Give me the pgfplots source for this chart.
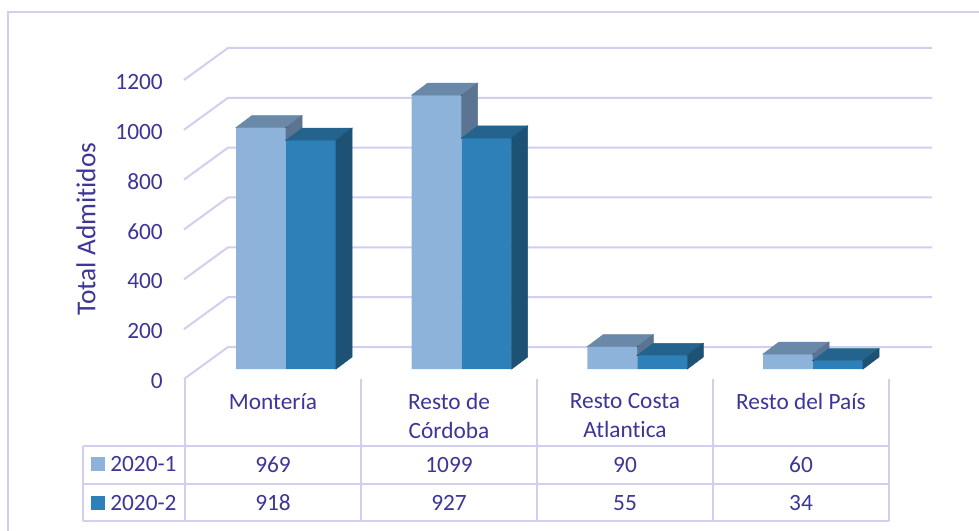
\documentclass[border=0pt]{standalone}
\usepackage{pgfplots}
\usepackage{pgfplotstable}
\pgfplotsset{compat=1.18}
\usepackage{fontspec}
\setmainfont{Carlito}[Ligatures=CommonOff]
\definecolor{txt}{RGB}{60,54,152}
\definecolor{gridc}{RGB}{210,206,240}
\definecolor{lf}{RGB}{142,179,219}
\definecolor{lt}{RGB}{106,136,168}
\definecolor{ls}{RGB}{90,116,145}
\definecolor{df}{RGB}{46,128,184}
\definecolor{dt}{RGB}{35,99,142}
\definecolor{ds}{RGB}{29,82,117}
\pgfplotstableread{
x a b
0 969 918
1 1099 927
2 90 55
3 60 34
}\datatable
\newcommand\yu{0.1869}
\newcommand\fnt{\fontsize{17.5}{21.75}\selectfont}
\begin{document}
\begin{tikzpicture}
\begin{scope}[x=0.75pt,y=-0.75pt]
\path[use as bounding box] (0,0) rectangle (979,531);
\fill[white] (0,0) rectangle (979,531);
% frame
\draw[gridc, line width=1.5pt] (8,531) -- (8,12) -- (979,12);
% gridlines and tick labels
\foreach \v in {0,200,400,600,800,1000,1200} {
  \pgfmathsetmacro\yb{347-0.2492*\v}
  \pgfmathsetmacro\yf{379-0.2492*\v}
  \draw[gridc, line width=1.5pt] (184,\yf) -- (228,\yb) -- (932,\yb);
  \node[anchor=east, text=txt, font=\fnt, inner sep=0pt] at (163,\yf+2) {\v};
}
% axis title
\node[rotate=90, text=txt, font=\fontsize{20.5}{24}\selectfont] at (86,229) {Total Admitidos};
% table lines
\draw[gridc, line width=1.5pt] (83,446) -- (889,446);
\draw[gridc, line width=1.5pt] (83,484) -- (889,484);
\draw[gridc, line width=1.5pt] (83,521) -- (889,521);
\draw[gridc, line width=1.5pt] (83,446) -- (83,521);
\foreach \xx in {185,361,537,713,889} {
  \draw[gridc, line width=1.5pt] (\xx,379) -- (\xx,521);
}
% category labels
\node[text=txt, font=\fnt, align=center, anchor=north, inner sep=0pt] at (273,393) {Montería};
\node[text=txt, font=\fnt, align=center, anchor=north, inner sep=0pt] at (449,393) {Resto de\\Córdoba};
\node[text=txt, font=\fnt, align=center, anchor=north, inner sep=0pt] at (625,393) {Resto Costa\\Atlant\kern0pt ica};
\node[text=txt, font=\fnt, align=center, anchor=north, inner sep=0pt] at (801,393) {Resto del País};
% legend keys
\fill[lf] (91,457) rectangle (105,471);
\fill[df] (91,496) rectangle (105,510);
\node[anchor=west, text=txt, font=\fnt, inner sep=0pt] at (110,464) {2020-1};
\node[anchor=west, text=txt, font=\fnt, inner sep=0pt] at (110,503) {2020-2};
% table values
\foreach \xx/\va/\vb in {273/969/918, 449/1099/927, 625/90/55, 801/60/34} {
  \node[text=txt, font=\fnt, inner sep=0pt] at (\xx,465) {\va};
  \node[text=txt, font=\fnt, inner sep=0pt] at (\xx,503) {\vb};
}
\end{scope}
\begin{axis}[at={(214.5pt,-276.75pt)}, anchor=south west,
  x=131.75pt, y=0.1869pt, xmin=0, xmax=3, ymin=0, ymax=1200,
  hide axis, clip=false]
% light front
\addplot[ybar, bar width=37.5pt, bar shift=-18.75pt, fill=lf, draw=none] table[x=x,y=a]{\datatable};
% dark front
\addplot[ybar, bar width=37.5pt, bar shift=18.75pt, fill=df, draw=none] table[x=x,y=b]{\datatable};
% light top and visible part of side
\addplot[scatter, only marks, mark=*, mark size=0.01pt,
  visualization depends on={\thisrow{a} \as \va},
  visualization depends on={\thisrow{b} \as \vb},
  scatter/@pre marker code/.code={%
    \pgfmathsetmacro\h{(\va-\vb)*\yu}%
    \fill[lt] (-37.5pt,0pt) -- (-25.5pt,9pt) -- (12pt,9pt) -- (0pt,0pt) -- cycle;
    \fill[ls] (0pt,0pt) -- (12pt,9pt) -- (12pt,9pt-\h pt) -- (0pt,-\h pt) -- cycle;
    \begin{scope}},
  scatter/@post marker code/.code={\end{scope}}]
  table[x=x,y=a]{\datatable};
% dark top and side
\addplot[scatter, only marks, mark=*, mark size=0.01pt,
  visualization depends on={\thisrow{b} \as \vb},
  scatter/@pre marker code/.code={%
    \pgfmathsetmacro\h{\vb*\yu}%
    \fill[dt] (0pt,0pt) -- (12pt,9pt) -- (49.5pt,9pt) -- (37.5pt,0pt) -- cycle;
    \fill[ds] (37.5pt,0pt) -- (49.5pt,9pt) -- (49.5pt,9pt-\h pt) -- (37.5pt,-\h pt) -- cycle;
    \begin{scope}},
  scatter/@post marker code/.code={\end{scope}}]
  table[x=x,y=b]{\datatable};
\end{axis}
\end{tikzpicture}
\end{document}
